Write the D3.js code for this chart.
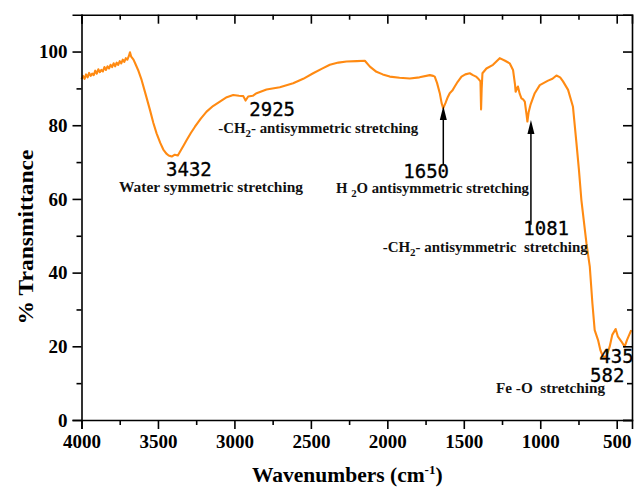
<!DOCTYPE html>
<html><head><meta charset="utf-8">
<script src="https://cdn.jsdelivr.net/npm/d3@7"></script>
<style>
html,body{margin:0;padding:0;background:#fff;}
svg{display:block;}
</style></head>
<body>
<script>
// Data: wavenumber (cm^-1) and % transmittance
const wavenumbers = [4000,3990,3980,3970,3960,3950,3940,3930,3920,3910,3900,3890,3880,3870,3860,3850,3840,3830,3820,3810,3800,3790,3780,3770,3760,3750,3740,3730,3720,3710,3700,3690,3683,3675,3660,3650,
3630,3607,3580,3552,3530,3509,3485,3465,3445,3430,3410,3390,3370,3356,3335,3312,3285,3258,3220,3182,3140,3095,3050,3008,2970,2942,2927,2910,2880,2855,2790,2703,2616,2550,2485,2430,2376,2320,2267,2200,2147,2114,2071,2030,1984,1920,1853,1790,1722,1700,1690,1675,1657,1645,1635,1620,1605,1592,1575,1559,1540,1515,1490,1461,1440,1420,1407,1391,1387,1383,1378,1352,1309,1265,1230,1200,1178,1165,1161,1146,1134,1123,1112,1101,1090,1084,1076,1064,1036,1003,949,920,894,870,851,818,786,764,747,731,698,676,659,644,622,607,590,568,546,529,507,492,469,448,433,405];
const transmittance = [92.5,93.4,92.6,93.8,93.0,94.2,93.4,94.0,93.6,94.8,94.0,95.2,94.4,95.0,94.6,95.8,95.0,96.0,95.4,96.4,95.8,96.8,96.0,97.0,96.4,97.4,96.8,97.8,97.2,98.2,97.8,98.8,99.8,98.6,97.8,96.9,
95.0,92.3,88.3,84.1,80.6,77.8,75.2,73.4,72.3,71.8,71.5,72.0,71.8,72.8,74.3,76.0,77.9,79.6,81.8,83.7,85.2,86.4,87.6,88.2,88.0,87.9,86.7,87.8,88.0,88.7,89.7,90.3,91.4,92.6,94.1,95.3,96.4,97.0,97.3,97.4,97.5,95.9,94.5,93.8,93.2,92.9,92.7,93.0,93.6,93.4,93.2,91.5,88.7,86.0,84.6,86.0,87.6,88.7,89.4,90.5,91.8,93.2,93.8,94.1,93.6,93.2,92.7,91.9,84.3,90.0,94.1,95.4,96.4,98.2,97.5,96.8,95.0,91.0,89.1,90.5,88.5,87.3,87.0,86.4,83.0,81.0,83.5,85.5,88.7,90.9,92.1,92.6,93.5,93.0,91.9,89.6,85.0,75.5,67.9,59.7,48.0,41.6,31.7,24.4,21.7,19.0,17.2,17.2,19.9,23.1,24.7,22.6,21.3,19.9,21.7,24.4];

const xTicks = [4000,3500,3000,2500,2000,1500,1000,500];
const xMinor = [3750,3250,2750,2250,1750,1250,750];
const yTicks = [0,20,40,60,80,100];
const yMinor = [10,30,50,70,90];

const W = 636, H = 489;
const svg = d3.select("body").append("svg").attr("width", W).attr("height", H);

const x = d3.scaleLinear().domain([4000, 400]).range([81.5, 632]);
const y = d3.scaleLinear().domain([0, 110]).range([420, 14.7]);

const serif = "'Liberation Serif', 'Times New Roman', serif";
const mono = "'DejaVu Sans Mono', monospace";

// curve
const pts = wavenumbers.map((w, i) => [w, transmittance[i]]);
svg.append("path")
  .datum(pts)
  .attr("fill", "none")
  .attr("stroke", "#FF8A12")
  .attr("stroke-width", 2.1)
  .attr("stroke-linejoin", "round")
  .attr("d", d3.line().x(d => x(d[0])).y(d => y(d[1])));

// axes
function styleAxis(g) {
  g.selectAll(".domain").attr("stroke", "#000").attr("stroke-width", 1.6);
  g.selectAll(".tick line").attr("stroke", "#000").attr("stroke-width", 1.6);
  g.selectAll("text").attr("font-family", serif).attr("font-size", 19).attr("font-weight", "bold").attr("fill", "#000");
}
const xAxis = svg.append("g").attr("transform", "translate(0,420)")
  .call(d3.axisBottom(x).tickValues(xTicks).tickSize(9).tickPadding(6).tickFormat(d3.format("d")));
styleAxis(xAxis);
svg.append("g").attr("transform", "translate(0,420)")
  .call(d3.axisBottom(x).tickValues(xMinor).tickSize(5).tickFormat(""))
  .call(styleAxis).select(".domain").remove();

const xTop = svg.append("g").attr("transform", "translate(0,14.7)")
  .call(d3.axisBottom(x).tickValues(xTicks).tickSize(9).tickFormat(""));
styleAxis(xTop);
svg.append("g").attr("transform", "translate(0,14.7)")
  .call(d3.axisBottom(x).tickValues(xMinor).tickSize(5).tickFormat(""))
  .call(styleAxis).select(".domain").remove();

const yAxis = svg.append("g").attr("transform", "translate(81.5,0)")
  .call(d3.axisLeft(y).tickValues(yTicks).tickSize(9).tickPadding(5).tickFormat(d3.format("d")));
styleAxis(yAxis);
svg.append("g").attr("transform", "translate(81.5,0)")
  .call(d3.axisLeft(y).tickValues(yMinor).tickSize(5).tickFormat(""))
  .call(styleAxis).select(".domain").remove();

const yRight = svg.append("g").attr("transform", "translate(632,0)")
  .call(d3.axisLeft(y).tickValues(yTicks).tickSize(9).tickFormat(""));
styleAxis(yRight);
svg.append("g").attr("transform", "translate(632,0)")
  .call(d3.axisLeft(y).tickValues(yMinor).tickSize(5).tickFormat(""))
  .call(styleAxis).select(".domain").remove();

// axis titles
svg.append("text")
  .attr("transform", "translate(33,237) rotate(-90)")
  .attr("text-anchor", "middle")
  .attr("font-family", serif).attr("font-weight", "bold").attr("font-size", 21)
  .attr("textLength", 175).attr("lengthAdjust", "spacingAndGlyphs")
  .text("% Transmittance");

const xl = svg.append("text")
  .attr("x", 252).attr("y", 482)
  .attr("font-family", serif).attr("font-weight", "bold").attr("font-size", 21.5);
xl.append("tspan").text("Wavenumbers (cm");
xl.append("tspan").attr("font-size", 13).attr("dy", -8).text("-1");
xl.append("tspan").attr("dy", 8).text(")");

// annotations
const numLabels = [
  {t: "3432", x: 166, y: 175.5},
  {t: "2925", x: 249.3, y: 115.7},
  {t: "1650", x: 403.3, y: 178.3},
  {t: "1081", x: 523.3, y: 235},
  {t: "435", x: 599.3, y: 362.7},
  {t: "582", x: 590, y: 381.7}
];
numLabels.forEach(d => {
  svg.append("text").attr("x", d.x).attr("y", d.y)
    .attr("font-family", mono).attr("font-size", 19).attr("fill", "#000")
    .attr("stroke", "#000").attr("stroke-width", 0.3)
    .text(d.t);
});

function desc(parts, x0, y0, len) {
  const t = svg.append("text").attr("x", x0).attr("y", y0)
    .attr("font-family", serif).attr("font-weight", "bold").attr("font-size", 15).attr("fill", "#111")
    .attr("textLength", len).attr("lengthAdjust", "spacingAndGlyphs")
    .attr("xml:space", "preserve");
  parts.forEach(p => {
    const s = t.append("tspan").text(p.s);
    if (p.sub) s.attr("font-size", 11).attr("dy", 4);
    if (p.back) s.attr("dy", -4);
  });
}
desc([{s: "Water symmetric stretching"}], 119, 192, 184);
desc([{s: "-CH"}, {s: "2", sub: true}, {s: "- antisymmetric stretching", back: true}], 218.3, 133.3, 200);
desc([{s: "H "}, {s: "2", sub: true}, {s: "O antisymmetric stretching", back: true}], 336, 193.3, 193);
desc([{s: "-CH"}, {s: "2", sub: true}, {s: "- antisymmetric  stretching", back: true}], 382.7, 251.7, 205);
desc([{s: "Fe -O  stretching"}], 496, 393.3, 109);

// arrows (position in data units: wavenumber, tip transmittance, tail transmittance)
const arrows = [
  {w: 1634, tip: 85.2, tail: 69.2},
  {w: 1061, tip: 81.4, tail: 53.0}
];
arrows.forEach(a => {
  const ax = x(a.w);
  const ty = y(a.tip);
  svg.append("line").attr("x1", ax).attr("x2", ax).attr("y1", ty + 10).attr("y2", y(a.tail))
    .attr("stroke", "#000").attr("stroke-width", 1.5);
  svg.append("path")
    .attr("d", `M${ax},${ty} L${ax - 3.5},${ty + 14} L${ax + 3.5},${ty + 14} Z`)
    .attr("fill", "#000");
});
</script>
</body></html>
